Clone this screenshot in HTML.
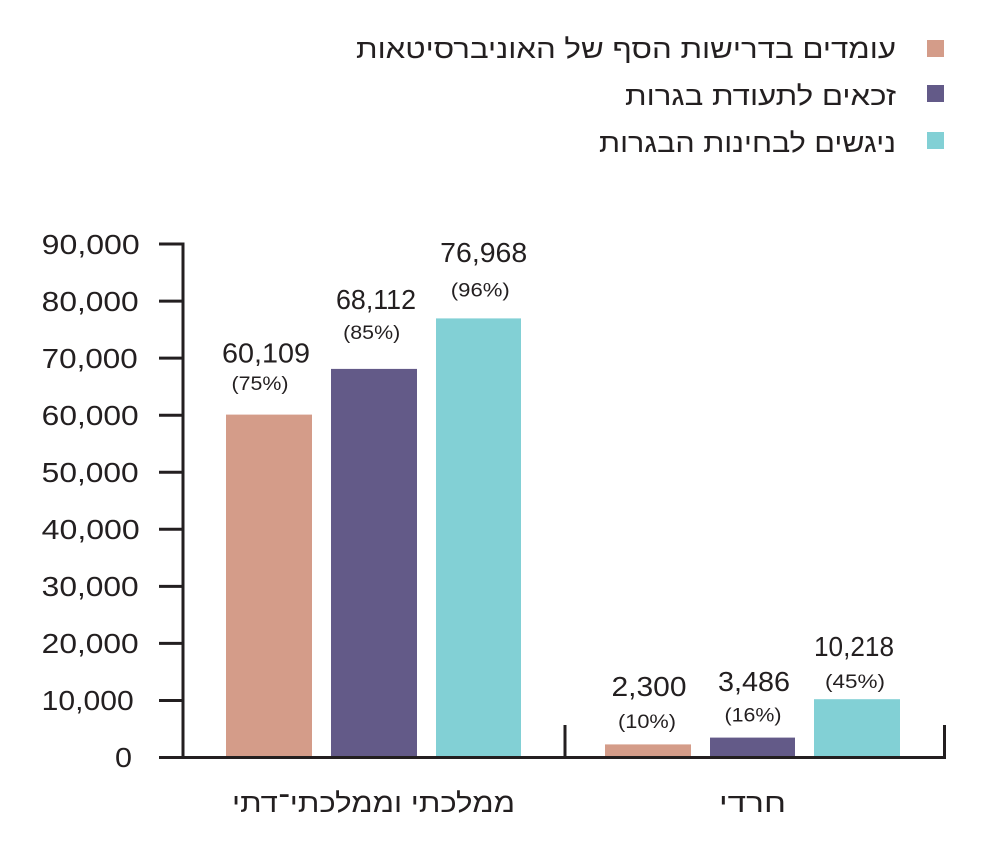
<!DOCTYPE html>
<html>
<head>
<meta charset="utf-8">
<style>
  html, body { margin:0; padding:0; background:#ffffff; }
  svg { display:block; }
  text { font-family: "Liberation Sans", "DejaVu Sans", sans-serif; fill:#231f20; }
</style>
</head>
<body>
<svg width="987" height="843" viewBox="0 0 987 843" xmlns="http://www.w3.org/2000/svg">
  <rect x="0" y="0" width="987" height="843" fill="#ffffff"/>

  <!-- Legend -->
  <rect x="927" y="40" width="17" height="17" fill="#d49c89"/>
  <rect x="927" y="85" width="17" height="17" fill="#635a88"/>
  <rect x="927" y="132" width="17" height="17" fill="#82d0d5"/>
  <text x="626" y="58" font-size="27" text-anchor="middle" textLength="540" lengthAdjust="spacingAndGlyphs">עומדים בדרישות הסף של האוניברסיטאות</text>
  <text x="760.5" y="105" font-size="27" text-anchor="middle" textLength="271" lengthAdjust="spacingAndGlyphs">זכאים לתעודת בגרות</text>
  <text x="747.5" y="152" font-size="27" text-anchor="middle" textLength="297" lengthAdjust="spacingAndGlyphs">ניגשים לבחינות הבגרות</text>

  <!-- Bars -->
  <rect x="226" y="414.6" width="86" height="342.9" fill="#d49c89"/>
  <rect x="331" y="368.9" width="86" height="388.6" fill="#635a88"/>
  <rect x="436" y="318.4" width="85" height="439.1" fill="#82d0d5"/>
  <rect x="605" y="744.4" width="86" height="13.1" fill="#d49c89"/>
  <rect x="710" y="737.6" width="85" height="19.9" fill="#635a88"/>
  <rect x="814" y="699.2" width="86" height="58.3" fill="#82d0d5"/>

  <!-- Axes -->
  <g stroke="#231f20" stroke-width="3" fill="none">
    <line x1="183" y1="242.6" x2="183" y2="757.5"/>
    <line x1="159" y1="757.5" x2="946" y2="757.5"/>
    <line x1="159" y1="700.45" x2="183" y2="700.45"/>
    <line x1="159" y1="643.4" x2="183" y2="643.4"/>
    <line x1="159" y1="586.35" x2="183" y2="586.35"/>
    <line x1="159" y1="529.3" x2="183" y2="529.3"/>
    <line x1="159" y1="472.25" x2="183" y2="472.25"/>
    <line x1="159" y1="415.2" x2="183" y2="415.2"/>
    <line x1="159" y1="358.15" x2="183" y2="358.15"/>
    <line x1="159" y1="301.1" x2="183" y2="301.1"/>
    <line x1="159" y1="244.05" x2="184.5" y2="244.05"/>
    <line x1="565" y1="725" x2="565" y2="757.5"/>
    <line x1="944.5" y1="725" x2="944.5" y2="759"/>
  </g>

  <!-- Y tick labels -->
  <g font-size="28">
    <text x="41.7" y="254" textLength="98" lengthAdjust="spacingAndGlyphs">90,000</text>
    <text x="41.7" y="311" textLength="97" lengthAdjust="spacingAndGlyphs">80,000</text>
    <text x="41.7" y="368" textLength="96" lengthAdjust="spacingAndGlyphs">70,000</text>
    <text x="41.7" y="425" textLength="97" lengthAdjust="spacingAndGlyphs">60,000</text>
    <text x="41.7" y="482" textLength="97" lengthAdjust="spacingAndGlyphs">50,000</text>
    <text x="41.7" y="539" textLength="98" lengthAdjust="spacingAndGlyphs">40,000</text>
    <text x="41.7" y="596" textLength="97" lengthAdjust="spacingAndGlyphs">30,000</text>
    <text x="41.7" y="653" textLength="97" lengthAdjust="spacingAndGlyphs">20,000</text>
    <text x="41.7" y="710" textLength="92" lengthAdjust="spacingAndGlyphs">10,000</text>
    <text x="115" y="767" textLength="17" lengthAdjust="spacingAndGlyphs">0</text>
  </g>

  <!-- Value labels -->
  <g font-size="28" text-anchor="middle">
    <text x="266" y="362.5" textLength="88" lengthAdjust="spacingAndGlyphs">60,109</text>
    <text x="376" y="309" textLength="80" lengthAdjust="spacingAndGlyphs">68,112</text>
    <text x="483.7" y="262" textLength="87" lengthAdjust="spacingAndGlyphs">76,968</text>
    <text x="649" y="696" textLength="75" lengthAdjust="spacingAndGlyphs">2,300</text>
    <text x="754" y="691" textLength="72" lengthAdjust="spacingAndGlyphs">3,486</text>
    <text x="854" y="656" textLength="80" lengthAdjust="spacingAndGlyphs">10,218</text>
  </g>
  <g font-size="19" text-anchor="middle">
    <text x="260" y="389.8" textLength="57" lengthAdjust="spacingAndGlyphs">(75%)</text>
    <text x="371.7" y="339" textLength="57" lengthAdjust="spacingAndGlyphs">(85%)</text>
    <text x="480.3" y="296.5" textLength="59" lengthAdjust="spacingAndGlyphs">(96%)</text>
    <text x="647" y="728" textLength="58" lengthAdjust="spacingAndGlyphs">(10%)</text>
    <text x="753" y="721.5" textLength="57" lengthAdjust="spacingAndGlyphs">(16%)</text>
    <text x="855" y="688" textLength="60" lengthAdjust="spacingAndGlyphs">(45%)</text>
  </g>

  <!-- Category labels -->
  <text x="373.5" y="812" font-size="27" text-anchor="middle" textLength="283" lengthAdjust="spacingAndGlyphs">ממלכתי וממלכתי־דתי</text>
  <text x="752.5" y="812" font-size="27" text-anchor="middle" textLength="67" lengthAdjust="spacingAndGlyphs">חרדי</text>
</svg>
</body>
</html>
